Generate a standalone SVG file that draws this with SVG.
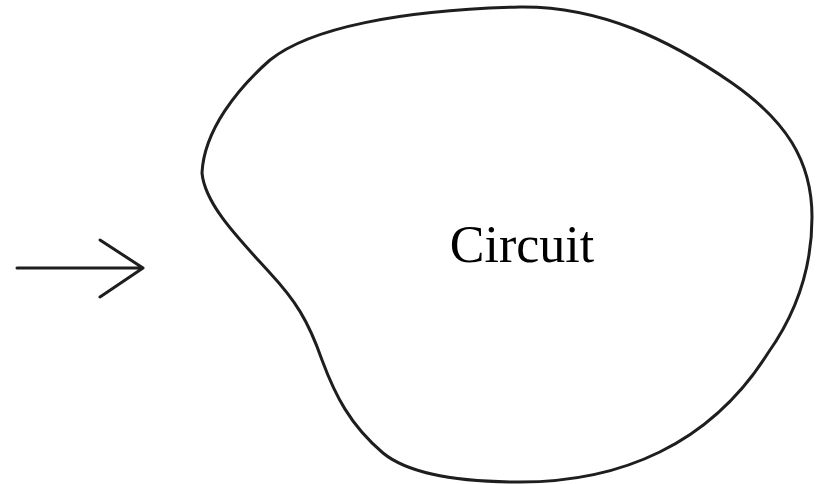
<svg xmlns="http://www.w3.org/2000/svg" width="823" height="484" viewBox="0 0 823 484">
<style>
.ln{fill:none;stroke:#1e1e1e;stroke-width:3;stroke-linecap:round;stroke-linejoin:round}
.lbl{font-family:"Liberation Serif","Times New Roman",serif;font-size:52px;fill:#000}
</style>
<rect width="823" height="484" fill="#fff"/>
<g id="connectors">
<path class="ln" d="M17,268 H143 M100,240 L143,268 L100,297"/>
</g>
<g id="circuit">
<path class="ln" d="M202,173 C204,130 238,88 270,60 C310,28 400,10 520,7 C600,6 670,40 732,83 C785,120 812,160 812,217 C812,270 795,315 768,353 C710,445 620,482 520,482 C460,482 410,475 383,453 C350,425 335,395 322,360 C308,320 295,300 270,273 C240,240 205,205 202,173 Z"/>
<text class="lbl" x="522" y="262" text-anchor="middle">Circuit</text>
</g>
</svg>
